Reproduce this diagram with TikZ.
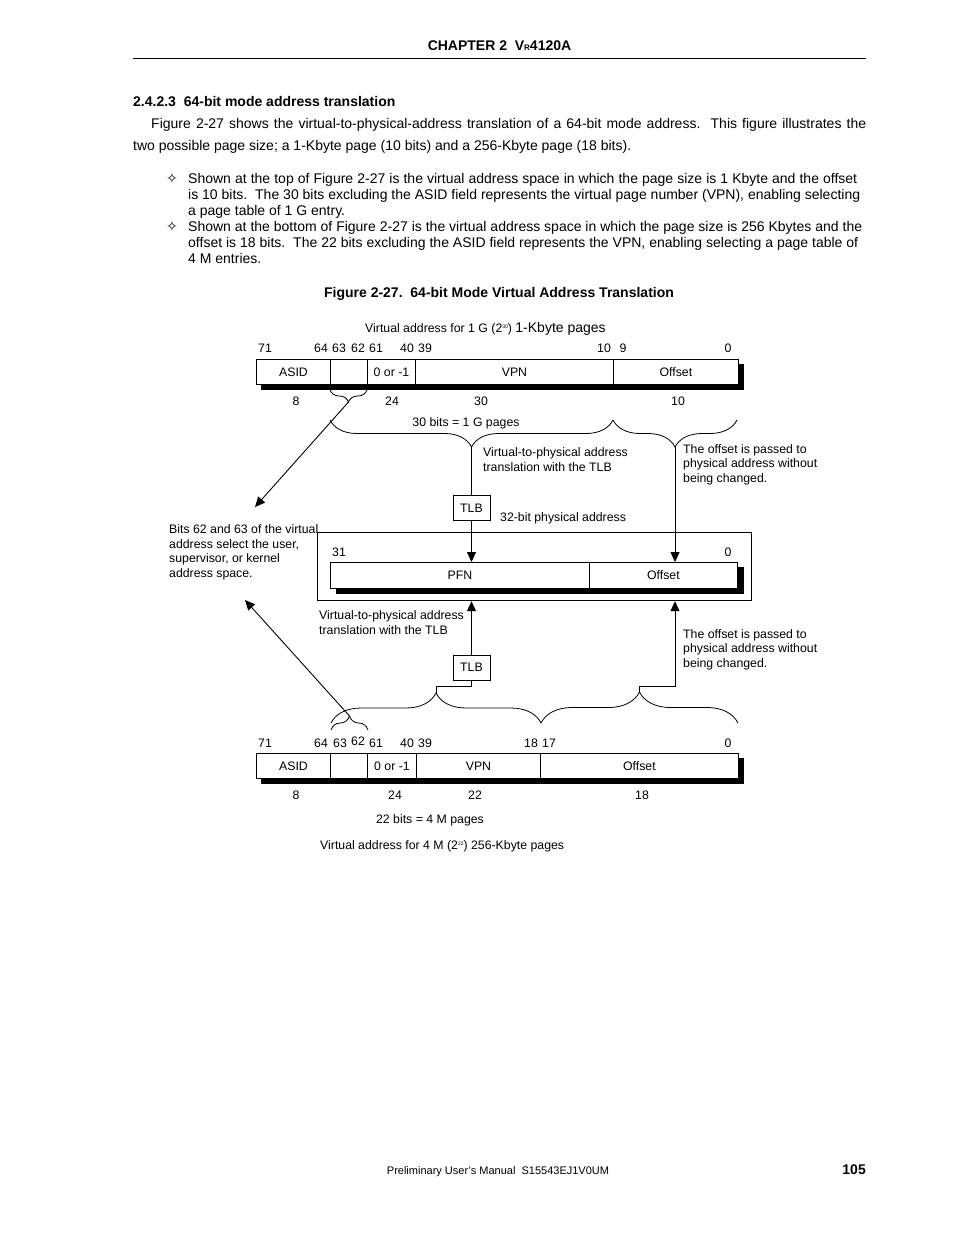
\documentclass[tikz,border=0pt]{standalone}
\usepackage{fontspec}
\setmainfont{Liberation Sans}
\newfontfamily\symfont{DejaVu Sans}
\usetikzlibrary{arrows.meta,decorations.pathreplacing,backgrounds}
\newcommand{\bodyfont}{\fontsize{14}{16}\selectfont}
\newcommand{\figfont}{\fontsize{12.3}{15}\selectfont}
\newcommand{\footfont}{\fontsize{11}{13}\selectfont}
\newcommand{\supnum}[1]{\raisebox{4.5pt}{\fontsize{5}{5}\selectfont #1}}

\begin{document}
\begin{tikzpicture}[x=1pt, y=-1pt, every node/.style={inner sep=0pt},
	field/.style={draw, line width=0.9pt, fill=white, anchor=north west, minimum height=25pt, font=\figfont},
	tlbbox/.style={draw, line width=0.9pt, fill=white, minimum width=37pt, minimum height=25pt, font=\figfont},
	txt/.style={anchor=base west, font=\bodyfont},
	lbl/.style={anchor=base, font=\figfont},
	note/.style={anchor=base west, font=\figfont},
	curly/.style={decorate, decoration={brace, amplitude=#1}, line width=0.8pt},
	arr/.style={line width=0.9pt, -{Triangle[length=10pt,width=9pt]}}]
	\useasboundingbox (0,0) rectangle (954,1235);

	% running head
	\node[anchor=base, font=\bodyfont\bfseries] (head) at (499.5,50) {CHAPTER 2\ \ V{\fontsize{8}{8}\selectfont R}4120A};
	\coordinate (ruleL) at (133,58);
	\coordinate (ruleR) at (866,58);
	\draw[line width=0.9pt] (ruleL) -- (ruleR);

	% section text
	\node[txt, font=\bodyfont\bfseries] (sect) at (133,106) {2.4.2.3\ \ 64-bit mode address translation};
	\node[txt] (para1) at (151,128) {\makebox[715pt][s]{Figure 2-27 shows the virtual-to-physical-address translation of a 64-bit mode address.\ \ This figure illustrates the}};
	\node[txt] (para2) at (133,150) {two possible page size; a 1-Kbyte page (10 bits) and a 256-Kbyte page (18 bits).};
	\foreach \y [count=\i] in {183,231} {
		\node[anchor=base, font=\fontsize{14}{14}\selectfont\symfont] (bullet\i) at (172,\y) {✧};
	}
	\node[txt] (itemA1) at (188,183) {\makebox[669pt][s]{Shown at the top of Figure 2-27 is the virtual address space in which the page size is 1 Kbyte and the offset}};
	\node[txt] (itemA2) at (188,199) {\makebox[672pt][s]{is 10 bits.\ \ The 30 bits excluding the ASID field represents the virtual page number (VPN), enabling selecting}};
	\node[txt] (itemA3) at (188,215) {a page table of 1 G entry.};
	\node[txt] (itemB1) at (188,231) {\makebox[674pt][s]{Shown at the bottom of Figure 2-27 is the virtual address space in which the page size is 256 Kbytes and the}};
	\node[txt] (itemB2) at (188,247) {\makebox[670pt][s]{offset is 18 bits.\ \ The 22 bits excluding the ASID field represents the VPN, enabling selecting a page table of}};
	\node[txt] (itemB3) at (188,263) {4 M entries.};
	\node[anchor=base, font=\bodyfont\bfseries] (caption) at (499,297) {Figure 2-27.\ \ 64-bit Mode Virtual Address Translation};

	% 1-Kbyte page address
	\node[note] (titleA) at (365,332.5) {Virtual address for 1 G (2\supnum{30})\ {\bodyfont 1-Kbyte pages}};
	\foreach \b/\x in {71/265,64/321,63/339,62/358,61/376,40/407,39/425,10/604,9/623,0/728}
		\node[lbl] (bitA\b) at (\x,352.5) {\b};
	\node[field, minimum width=74pt] (asidA) at (256,359) {ASID};
	\node[field, minimum width=37pt] (selA) at (330,359) {};
	\node[field, minimum width=48pt] (extA) at (367,359) {0 or -1};
	\node[field, minimum width=198pt] (vpnA) at (415,359) {VPN};
	\node[field, minimum width=125pt] (offA) at (613,359) {Offset};
	\foreach \w/\x [count=\i] in {8/296,24/392,30/481,10/678}
		\node[lbl] (widA\i) at (\x,405.5) {\w};
	\draw[curly=12pt] (367,390) -- (330,390);
	\draw[curly=27pt] (613,420) -- (330,420);
	\draw[curly=27pt] (737,420) -- (613,420);
	\coordinate (tipS) at (348.5,402);
	\coordinate (tipC) at (471.5,447);
	\coordinate (tipD) at (675,447);
	\node[lbl] (bitsA) at (466,426.5) {30 bits = 1 G pages};
	\node[note] (tlbnoteA1) at (483,456.5) {Virtual-to-physical address};
	\node[note] (tlbnoteA2) at (483,471.5) {translation with the TLB};
	\node[note] (offnoteA1) at (683,453.5) {The offset is passed to};
	\node[note] (offnoteA2) at (683,467.5) {physical address without};
	\node[note] (offnoteA3) at (683,482.5) {being changed.};
	\node[tlbbox] (tlbA) at (471.5,508) {TLB};
	\node[note] (physnote) at (500,521.5) {32-bit physical address};

	% physical address
	\node[draw, line width=1.2pt, anchor=north west, minimum width=434pt, minimum height=68pt] (physbox) at (317,532) {};
	\node[lbl] (bitP31) at (339,556.5) {31};
	\node[lbl] (bitP0) at (728,556.5) {0};
	\node[field, minimum width=259pt, minimum height=26pt] (pfn) at (330,562) {PFN};
	\node[field, minimum width=148pt, minimum height=26pt] (offP) at (589,562) {Offset};
	\node[note] (selnote1) at (169,533.5) {Bits 62 and 63 of the virtual};
	\node[note] (selnote2) at (169,548) {address select the user,};
	\node[note] (selnote3) at (169,562.5) {supervisor, or kernel};
	\node[note] (selnote4) at (169,577) {address space.};
	\coordinate (selA end) at (255,507);
	\coordinate (selB end) at (245,600);

	% 256-Kbyte page address
	\node[note] (tlbnoteB1) at (319,619.5) {Virtual-to-physical address};
	\node[note] (tlbnoteB2) at (319,634.5) {translation with the TLB};
	\node[note] (offnoteB1) at (683,638.5) {The offset is passed to};
	\node[note] (offnoteB2) at (683,652.5) {physical address without};
	\node[note] (offnoteB3) at (683,667.5) {being changed.};
	\node[tlbbox] (tlbB) at (471.5,667.5) {TLB};
	\draw[curly=14pt] (331,730) -- (368,730);
	\draw[curly=30pt] (331,723) -- (541,723);
	\draw[curly=31pt] (541,723) -- (738,723);
	\coordinate (tipT) at (349.5,716);
	\coordinate (tipA) at (436,693);
	\coordinate (tipB) at (639.5,692);
	\foreach \b/\x/\y in {71/265/747.5,64/321/747.5,63/340/747.5,62/358/745.5,61/376/747.5,40/407/747.5,39/425/747.5,18/531/747.5,17/549/747.5,0/728/747.5}
		\node[lbl] (bitB\b) at (\x,\y) {\b};
	\node[field, minimum width=74pt] (asidB) at (256,753) {ASID};
	\node[field, minimum width=37pt] (selB) at (330,753) {};
	\node[field, minimum width=49pt] (extB) at (367,753) {0 or -1};
	\node[field, minimum width=124pt] (vpnB) at (416,753) {VPN};
	\node[field, minimum width=198pt] (offB) at (540,753) {Offset};
	\foreach \w/\x [count=\i] in {8/296,24/395,22/475,18/642}
		\node[lbl] (widB\i) at (\x,799.5) {\w};
	\node[lbl] (bitsB) at (430,823.5) {22 bits = 4 M pages};
	\node[note] (titleB) at (320,849.5) {Virtual address for 4 M (2\supnum{22}) 256-Kbyte pages};

	% connectors
	\draw[arr] (tipS) -- (selA end);
	\draw[line width=0.9pt] (tipC) -- (tlbA.north);
	\draw[arr] (tlbA.south) -- (tlbA.south |- pfn.north);
	\draw[arr] (tipD) -- (tipD |- offP.north);
	\draw[arr] (tipT) -- (selB end);
	\draw[line width=0.9pt] (tipA) -- ++(0,-7) -| (tlbB.south);
	\draw[arr] (tlbB.north) -- (tlbB.north |- physbox.south);
	\draw[arr] (tipB) -- ++(0,-6) -| (tipD |- physbox.south);

	% footer
	\node[anchor=base, font=\footfont] (foot) at (498,1174) {Preliminary User's Manual\ \ S15543EJ1V0UM};
	\node[anchor=base east, font=\bodyfont\bfseries] (pageno) at (866,1174.5) {105};

	\begin{scope}[on background layer]
		\fill[white] (0,0) rectangle (954,1235);
		\fill ([shift={(5,5)}]asidA.north west) rectangle ([shift={(5,5)}]offA.south east);
		\fill ([shift={(5,5)}]asidB.north west) rectangle ([shift={(5,5)}]offB.south east);
		\fill ([shift={(6,5)}]pfn.north west) rectangle ([shift={(6,5)}]offP.south east);
	\end{scope}
\end{tikzpicture}
\end{document}
